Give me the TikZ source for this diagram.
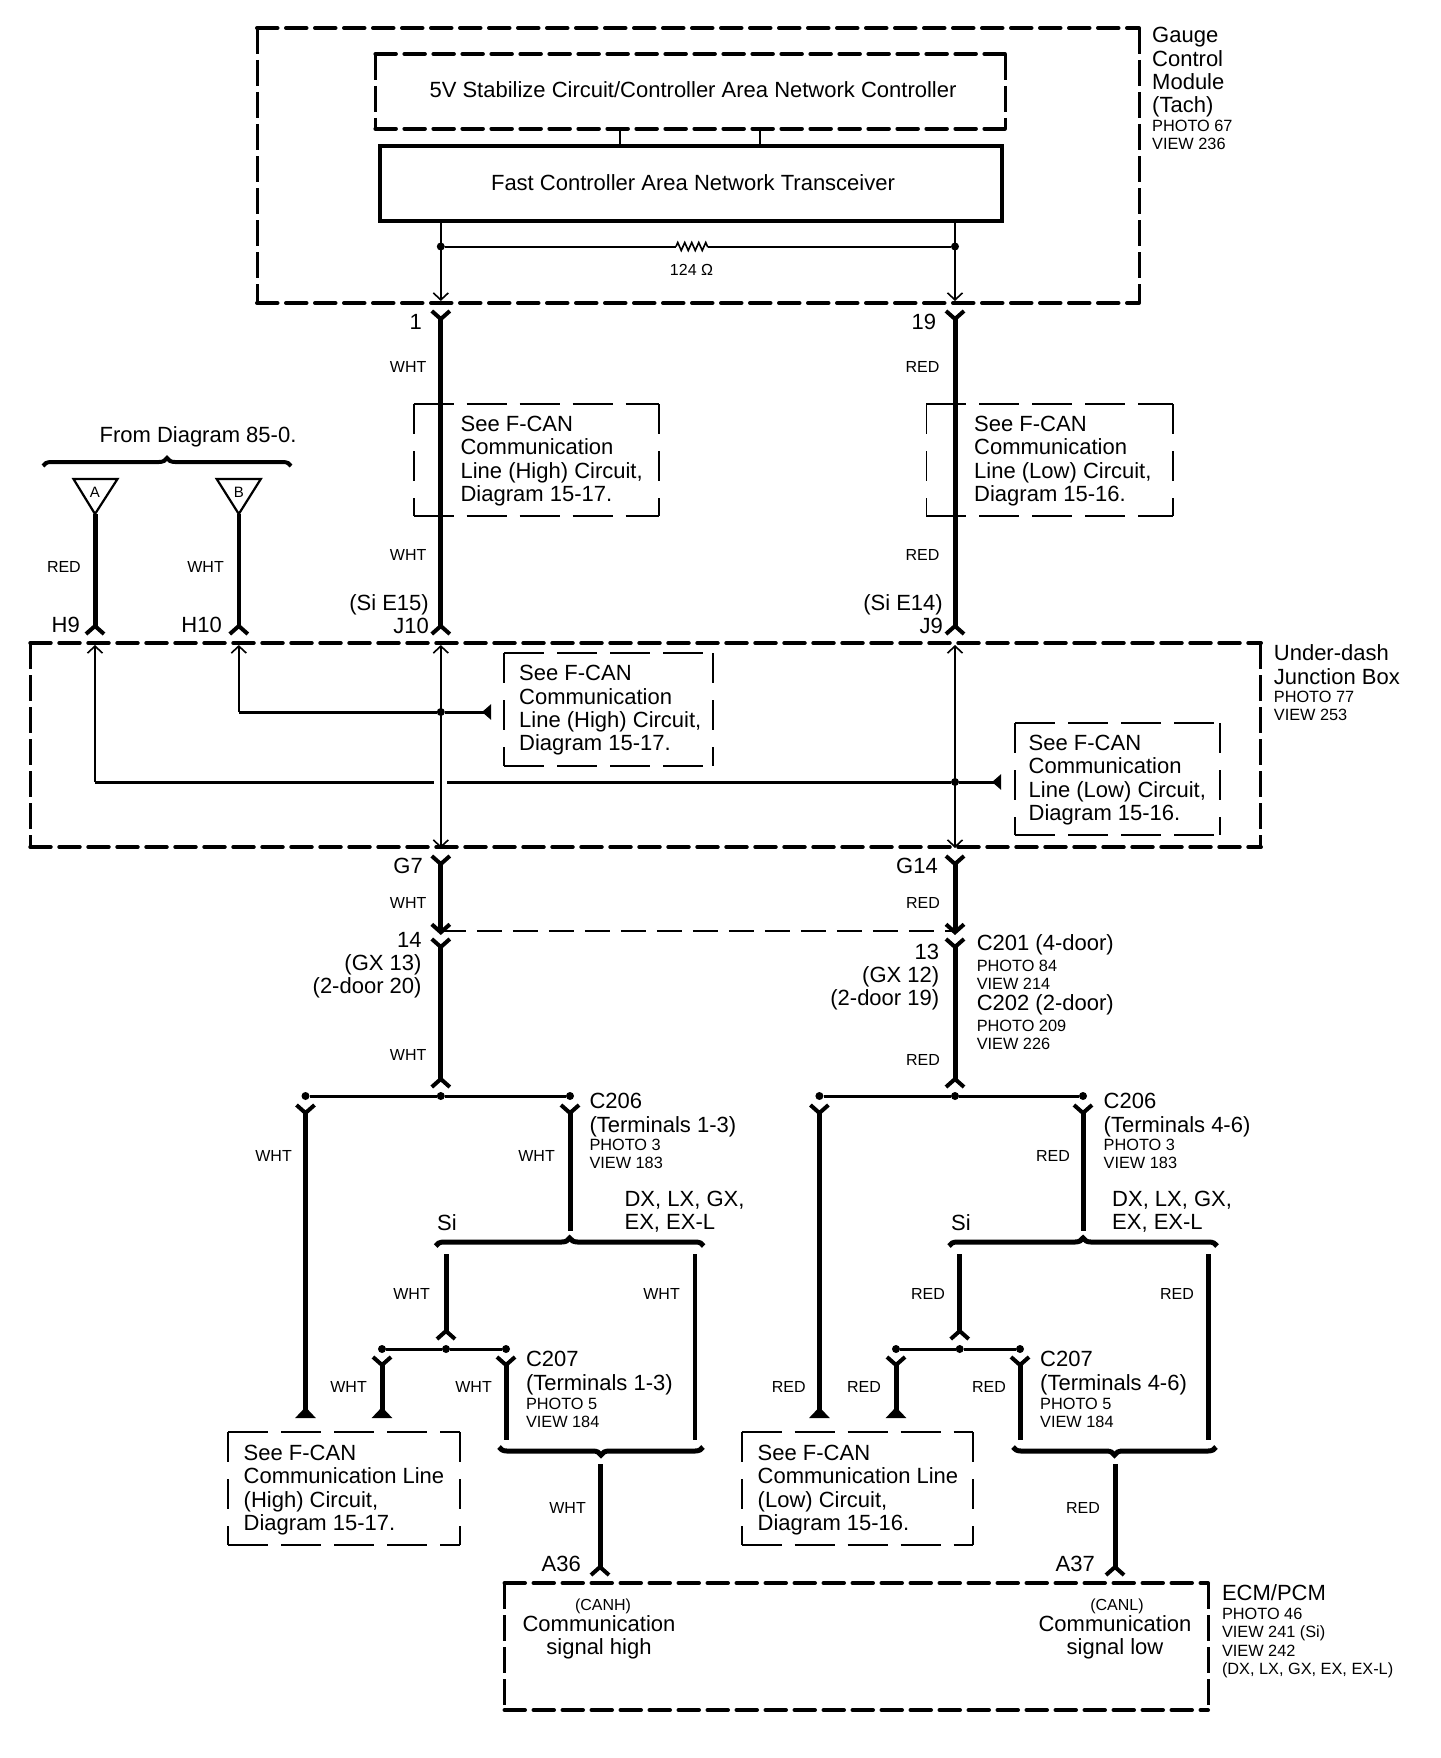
\documentclass[tikz,border=0pt]{standalone}
\usepackage{fontspec}
\setmainfont{Liberation Sans}
\usetikzlibrary{arrows.meta, decorations.pathreplacing, decorations.pathmorphing, positioning}
\tikzset{
  fork/.tip={Straight Barb[reversed, length=8pt, width=18pt, line width=4pt]},
  openhead/.tip={Straight Barb[length=7pt, width=15pt, line width=1.6pt]},
  thickhead/.tip={Straight Barb[length=8pt, width=18pt, line width=4pt]},
  blockhead/.tip={Triangle[reversed, length=11pt, width=20pt]},
  sidehead/.tip={Triangle[reversed, length=9pt, width=15pt]},
  wire/.style={line width=5pt},
  wirethin/.style={line width=4pt},
  thinwire/.style={line width=2pt},
  hwire/.style={line width=3pt},
  dot/.style={circle, fill=black, inner sep=0pt, minimum size=8pt},
  modulehdash/.style={line width=4pt, line cap=round, dash pattern=on 20.5pt off 8.5pt},
  modulevdash/.style={line width=3pt, dash pattern=on 26pt off 6pt},
  modulebox/.style={inner sep=0pt, outer sep=0pt, append after command={
    (\tikzlastnode.north west) edge [modulehdash] (\tikzlastnode.north east)
    (\tikzlastnode.south west) edge [modulehdash] (\tikzlastnode.south east)
    (\tikzlastnode.north west) edge [modulevdash] (\tikzlastnode.south west)
    (\tikzlastnode.north east) edge [modulevdash] (\tikzlastnode.south east)}},
  seehdash/.style={line width=2.6pt, dash pattern=on 40pt off 13pt},
  seevdash/.style={line width=1.8pt, dash pattern=on 30pt off 17pt},
  seebox/.style={inner sep=0pt, outer sep=0pt, append after command={
    (\tikzlastnode.north west) edge [seehdash] (\tikzlastnode.north east)
    (\tikzlastnode.south west) edge [seehdash] (\tikzlastnode.south east)
    (\tikzlastnode.north west) edge [seevdash] (\tikzlastnode.south west)
    (\tikzlastnode.north east) edge [seevdash] (\tikzlastnode.south east)}},
  bigtext/.style={inner sep=0pt, align=left, anchor=west, font=\fontsize{22}{23.3}\selectfont},
  smalltext/.style={inner sep=0pt, align=left, anchor=west, font=\fontsize{16.3}{18.3}\selectfont},
  pinlabel/.style={inner sep=0pt, anchor=east, align=right, font=\fontsize{22}{23.3}\selectfont},
  wirelabel/.style={inner sep=0pt, anchor=east, font=\fontsize{16}{18}\selectfont},
  busbrace/.style={decorate, line width=5pt, decoration={brace, amplitude=8pt}},
}
\begin{document}
\begin{tikzpicture}[x=1pt, y=-1pt]
\useasboundingbox (0,0) rectangle (1440,1758);
% gauge control module
\node (gauge) [modulebox, minimum width=882pt, minimum height=275pt] at (698,165.5) {};
\node (ctrl) [modulebox, minimum width=630pt, minimum height=74.6pt] at (690.4,91.3) {};
\node (ctrltext) [bigtext, anchor=center] at (693,90) {5V Stabilize Circuit/Controller Area Network Controller};
\node (xcvr) [draw=black, line width=3.5pt, minimum width=622pt, minimum height=75pt] at (691,183.5) {};
\node (xcvrtext) [bigtext, anchor=center] at (693,183) {Fast Controller Area Network Transceiver};
\node (gaugetag) [bigtext] at (1152,72.5) {Gauge\\Control\\Module\\(Tach)};
\node (gaugeview) [smalltext] at (1152,135) {PHOTO 67\\VIEW 236};
\coordinate (busa) at (620,100);
\coordinate (busb) at (760,100);
\draw [thinwire] (ctrl.south -| busa) -- (xcvr.north -| busa);
\draw [thinwire] (ctrl.south -| busb) -- (xcvr.north -| busb);
\coordinate (pinhigh) at (440.8,301);
\coordinate (pinlow) at (955,301);
\draw [thinwire, -openhead] (xcvr.south -| pinhigh) -- (pinhigh);
\draw [thinwire, -openhead] (xcvr.south -| pinlow) -- (pinlow);
\node (termhigh) [dot] at (440.8,246.5) {};
\node (termlow) [dot] at (955,246.5) {};
\coordinate (resleft) at (676,246.5);
\coordinate (resright) at (708,246.5);
\draw [thinwire] (termhigh) -- (resleft);
\draw [line width=1.6pt, decorate, decoration={zigzag, segment length=7pt, amplitude=4pt}] (resleft) -- (resright);
\draw [thinwire] (resright) -- (termlow);
\node (restext) [inner sep=0pt, font=\fontsize{16}{18}\selectfont] at (691.5,270) {124 Ω};
% wires into the junction box
\coordinate (top1) at (440.8,309);
\coordinate (j10) at (440.8,636);
\coordinate (top19) at (955,309);
\coordinate (j9) at (955,636);
\node (box1) [seebox, minimum width=245pt, minimum height=112pt] at (536.2,460) {};
\node (box2) [seebox, minimum width=246.5pt, minimum height=112pt] at (1049.7,460) {};
\draw [wire, fork-fork] (top1) -- (j10);
\draw [wire, fork-fork] (top19) -- (j9);
\node (box1text) [bigtext] at (460.4,461) {See F-CAN\\Communication\\Line (High) Circuit,\\Diagram 15-17.};
\node (box2text) [bigtext] at (974,461) {See F-CAN\\Communication\\Line (Low) Circuit,\\Diagram 15-16.};
\node (pin1) [pinlabel] at (422,322) {1};
\node (pin19) [pinlabel] at (936.4,322) {19};
\node (w1) [wirelabel] at (426.6,367) {WHT};
\node (w2) [wirelabel] at (939.5,367) {RED};
\node (w3) [wirelabel] at (426.6,555) {WHT};
\node (w4) [wirelabel] at (939.5,555) {RED};
\node (pinj10) [pinlabel] at (429,614) {(Si E15)\\J10};
\node (pinj9) [pinlabel] at (943,614) {(Si E14)\\J9};
% from the other diagram
\node (fromtext) [bigtext, anchor=center] at (198,437) {From Diagram 85-0.};
\coordinate (bracel) at (43,466);
\coordinate (bracer) at (291,466);
\draw [busbrace, line width=4pt] (bracel) -- (bracer);
\coordinate (al) at (73.5,479);
\coordinate (ar) at (117.5,479);
\coordinate (atip) at (95,514);
\coordinate (bl) at (216.7,479);
\coordinate (br) at (260.8,479);
\coordinate (btip) at (238.8,514);
\draw [line width=2.2pt] (al) -- (ar) -- (atip) -- cycle;
\draw [line width=2.2pt] (bl) -- (br) -- (btip) -- cycle;
\node (atext) [inner sep=0pt, font=\fontsize{15}{18}\selectfont] at (95,492) {A};
\node (btext) [inner sep=0pt, font=\fontsize{15}{18}\selectfont] at (238.8,492) {B};
\coordinate (h9) at (95,636);
\coordinate (h10) at (238.8,636);
\draw [wire, -fork] (atip) -- (h9);
\draw [wirethin, -fork] (btip) -- (h10);
\node (w5) [wirelabel] at (81,567) {RED};
\node (w6) [wirelabel] at (224,567) {WHT};
\node (pinh9) [pinlabel] at (80,625) {H9};
\node (pinh10) [pinlabel] at (222,625) {H10};
% under-dash junction box
\node (udjb) [modulebox, minimum width=1230.7pt, minimum height=204pt] at (645.6,745) {};
\node (udjbtag) [bigtext] at (1273.7,664.5) {Under-dash\\Junction Box};
\node (udjbview) [smalltext] at (1273.7,706) {PHOTO 77\\VIEW 253};
\node (box3) [seebox, minimum width=208.6pt, minimum height=113pt] at (608.3,709.5) {};
\node (box3text) [bigtext] at (519,710.5) {See F-CAN\\Communication\\Line (High) Circuit,\\Diagram 15-17.};
\node (box4) [seebox, minimum width=204.6pt, minimum height=112pt] at (1117.3,779) {};
\node (box4text) [bigtext] at (1028.5,780) {See F-CAN\\Communication\\Line (Low) Circuit,\\Diagram 15-16.};
\coordinate (inh9) at (95,645);
\coordinate (inh10) at (238.8,645);
\coordinate (inj10) at (440.8,645);
\coordinate (inj9) at (955,645);
\coordinate (ing7) at (440.8,848);
\coordinate (ing14) at (955,848);
\node (tee1) [dot] at (440.8,712) {};
\node (tee2) [dot] at (955,782) {};
\coordinate (corner1) at (238.8,712);
\coordinate (corner2) at (95,782);
\coordinate (end1) at (491,712);
\coordinate (end2) at (1001,782);
\coordinate (gapl) at (434,782);
\coordinate (gapr) at (447,782);
\draw [hwire] (corner1) -- (tee1);
\draw [hwire, -sidehead] (tee1) -- (end1);
\draw [hwire] (corner2) -- (gapl);
\draw [hwire] (gapr) -- (tee2);
\draw [hwire, -sidehead] (tee2) -- (end2);
\draw [thinwire, -openhead] (corner1) -- (inh10);
\draw [thinwire, -openhead] (corner2) -- (inh9);
\draw [thinwire, openhead-openhead] (inj10) -- (ing7);
\draw [thinwire, openhead-openhead] (inj9) -- (ing14);
% below the junction box
\coordinate (g7) at (440.8,854);
\coordinate (g14) at (955,854);
\coordinate (link1) at (440.8,935);
\coordinate (link2) at (955,935);
\coordinate (c201a) at (440.8,937);
\coordinate (c201b) at (955,937);
\coordinate (c206a) at (440.8,1089);
\coordinate (c206b) at (955,1089);
\draw [wire, fork-thickhead] (g7) -- (link1);
\draw [wire, fork-thickhead] (g14) -- (link2);
\draw [wire, fork-fork] (c201a) -- (c206a);
\draw [wire, fork-fork] (c201b) -- (c206b);
\coordinate (shieldl) at (440.8,931);
\coordinate (shieldr) at (955,931);
\draw [line width=2.4pt, dash pattern=on 25pt off 11pt] (shieldl) -- (shieldr);
\node (ping7) [pinlabel] at (423,866) {G7};
\node (ping14) [pinlabel] at (938,866) {G14};
\node (w7) [wirelabel] at (426.6,903) {WHT};
\node (w8) [wirelabel] at (940,903) {RED};
\node (pin14) [pinlabel] at (421.7,965) {14\\(GX 13)\\(2-door 20)};
\node (pin13) [pinlabel] at (939.4,977) {13\\(GX 12)\\(2-door 19)};
\node (c201text) [bigtext] at (976.6,945) {C201 (4-door)};
\node (c201view) [smalltext] at (976.6,975) {PHOTO 84\\VIEW 214};
\node (c202text) [bigtext] at (976.6,1005) {C202 (2-door)};
\node (c202view) [smalltext] at (976.6,1035) {PHOTO 209\\VIEW 226};
\node (w9) [wirelabel] at (426.6,1055) {WHT};
\node (w10) [wirelabel] at (940,1060) {RED};
% high side tree
\node (t1) [dot] at (305.5,1096) {};
\node (t2) [dot] at (440.8,1096) {};
\node (t3) [dot] at (570,1096) {};
\draw [hwire] (t1) -- (t2);
\draw [hwire] (t2) -- (t3);
\coordinate (d1) at (305.5,1103);
\coordinate (d1end) at (305.5,1418);
\coordinate (d3) at (570,1103);
\coordinate (d3end) at (570,1231);
\draw [wire, fork-blockhead] (d1) -- (d1end);
\draw [wire, fork-] (d3) -- (d3end);
\node (w11) [wirelabel] at (292,1156) {WHT};
\node (w12) [wirelabel] at (555,1156) {WHT};
\node (c206text) [bigtext] at (589.3,1115) {C206\\(Terminals 1-3)};
\node (c206view) [smalltext] at (589.3,1154) {PHOTO 3\\VIEW 183};
\node (opt1) [bigtext] at (624.4,1212) {DX, LX, GX,\\EX, EX-L};
\node (si1) [bigtext] at (437,1223) {Si};
\coordinate (sb1l) at (435.7,1246);
\coordinate (sb1r) at (703.7,1246);
\draw [busbrace] (sb1l) -- (sb1r);
\coordinate (s1) at (446,1254);
\coordinate (s1end) at (446,1341);
\coordinate (s2) at (694.5,1254);
\coordinate (s2end) at (694.5,1440);
\draw [wire, -fork] (s1) -- (s1end);
\draw [wirethin] (s2) -- (s2end);
\node (w13) [wirelabel] at (430,1294) {WHT};
\node (w14) [wirelabel] at (680,1294) {WHT};
\node (u1) [dot] at (382,1349) {};
\node (u2) [dot] at (446,1349) {};
\node (u3) [dot] at (506,1349) {};
\draw [hwire] (u1) -- (u2);
\draw [hwire] (u2) -- (u3);
\coordinate (v1) at (382,1355);
\coordinate (v1end) at (382,1418);
\coordinate (v3) at (506,1355);
\coordinate (v3end) at (506,1440);
\draw [wire, fork-blockhead] (v1) -- (v1end);
\draw [wire, fork-] (v3) -- (v3end);
\node (w15) [wirelabel] at (367,1387) {WHT};
\node (w16) [wirelabel] at (492,1387) {WHT};
\node (c207text) [bigtext] at (525.8,1373) {C207\\(Terminals 1-3)};
\node (c207view) [smalltext] at (525.8,1413) {PHOTO 5\\VIEW 184};
\node (box5) [seebox, minimum width=232pt, minimum height=113pt] at (344,1488.5) {};
\node (box5text) [bigtext] at (243.5,1490) {See F-CAN\\Communication Line\\(High) Circuit,\\Diagram 15-17.};
\coordinate (jb1l) at (499,1447);
\coordinate (jb1r) at (703,1447);
\draw [busbrace] (jb1r) -- (jb1l);
\coordinate (a36top) at (600,1464);
\coordinate (a36) at (600,1577);
\draw [wire, -fork] (a36top) -- (a36);
\node (w17) [wirelabel] at (586,1508) {WHT};
\node (pina36) [pinlabel] at (581,1564) {A36};
% low side tree
\node (t4) [dot] at (819.4,1096) {};
\node (t5) [dot] at (955,1096) {};
\node (t6) [dot] at (1083,1096) {};
\draw [hwire] (t4) -- (t5);
\draw [hwire] (t5) -- (t6);
\coordinate (d4) at (819.4,1103);
\coordinate (d4end) at (819.4,1418);
\coordinate (d6) at (1083,1103);
\coordinate (d6end) at (1083,1231);
\draw [wire, fork-blockhead] (d4) -- (d4end);
\draw [wire, fork-] (d6) -- (d6end);
\node (w18) [wirelabel] at (1070,1156) {RED};
\node (c206btext) [bigtext] at (1103.5,1115) {C206\\(Terminals 4-6)};
\node (c206bview) [smalltext] at (1103.5,1154) {PHOTO 3\\VIEW 183};
\node (opt2) [bigtext] at (1112,1212) {DX, LX, GX,\\EX, EX-L};
\node (si2) [bigtext] at (951,1223) {Si};
\coordinate (sb2l) at (949,1246);
\coordinate (sb2r) at (1217,1246);
\draw [busbrace] (sb2l) -- (sb2r);
\coordinate (s3) at (959.7,1254);
\coordinate (s3end) at (959.7,1341);
\coordinate (s4) at (1208,1254);
\coordinate (s4end) at (1208,1440);
\draw [wire, -fork] (s3) -- (s3end);
\draw [wire] (s4) -- (s4end);
\node (w19) [wirelabel] at (945,1294) {RED};
\node (w20) [wirelabel] at (1194,1294) {RED};
\node (u4) [dot] at (896,1349) {};
\node (u5) [dot] at (959.7,1349) {};
\node (u6) [dot] at (1020,1349) {};
\draw [hwire] (u4) -- (u5);
\draw [hwire] (u5) -- (u6);
\coordinate (v4) at (896,1355);
\coordinate (v4end) at (896,1418);
\coordinate (v6) at (1020,1355);
\coordinate (v6end) at (1020,1440);
\draw [wire, fork-blockhead] (v4) -- (v4end);
\draw [wire, fork-] (v6) -- (v6end);
\node (w21) [wirelabel] at (805.8,1387) {RED};
\node (w22) [wirelabel] at (881,1387) {RED};
\node (w23) [wirelabel] at (1006,1387) {RED};
\node (c207btext) [bigtext] at (1040,1373) {C207\\(Terminals 4-6)};
\node (c207bview) [smalltext] at (1040,1413) {PHOTO 5\\VIEW 184};
\node (box6) [seebox, minimum width=231.7pt, minimum height=113pt] at (857.5,1488.5) {};
\node (box6text) [bigtext] at (757.5,1490) {See F-CAN\\Communication Line\\(Low) Circuit,\\Diagram 15-16.};
\coordinate (jb2l) at (1013,1447);
\coordinate (jb2r) at (1216,1447);
\draw [busbrace] (jb2r) -- (jb2l);
\coordinate (a37top) at (1115,1464);
\coordinate (a37) at (1115,1577);
\draw [wire, -fork] (a37top) -- (a37);
\node (w24) [wirelabel] at (1100,1508) {RED};
\node (pina37) [pinlabel] at (1095,1564) {A37};
% engine control module
\node (ecm) [modulebox, minimum width=703.5pt, minimum height=127pt] at (856.25,1646.5) {};
\node (canh) [inner sep=0pt, font=\fontsize{16}{18}\selectfont] at (603,1606) {(CANH)};
\node (canl) [inner sep=0pt, font=\fontsize{16}{18}\selectfont] at (1117,1606) {(CANL)};
\node (sigh) [bigtext, anchor=center, align=center] at (599,1637) {Communication\\signal high};
\node (sigl) [bigtext, anchor=center, align=center] at (1115,1637) {Communication\\signal low};
\node (ecmtag) [bigtext] at (1221.8,1593) {ECM/PCM};
\node (ecmview) [smalltext] at (1221.8,1643) {PHOTO 46\\VIEW 241 (Si)\\VIEW 242\\(DX, LX, GX, EX, EX-L)};
\end{tikzpicture}
\end{document}
